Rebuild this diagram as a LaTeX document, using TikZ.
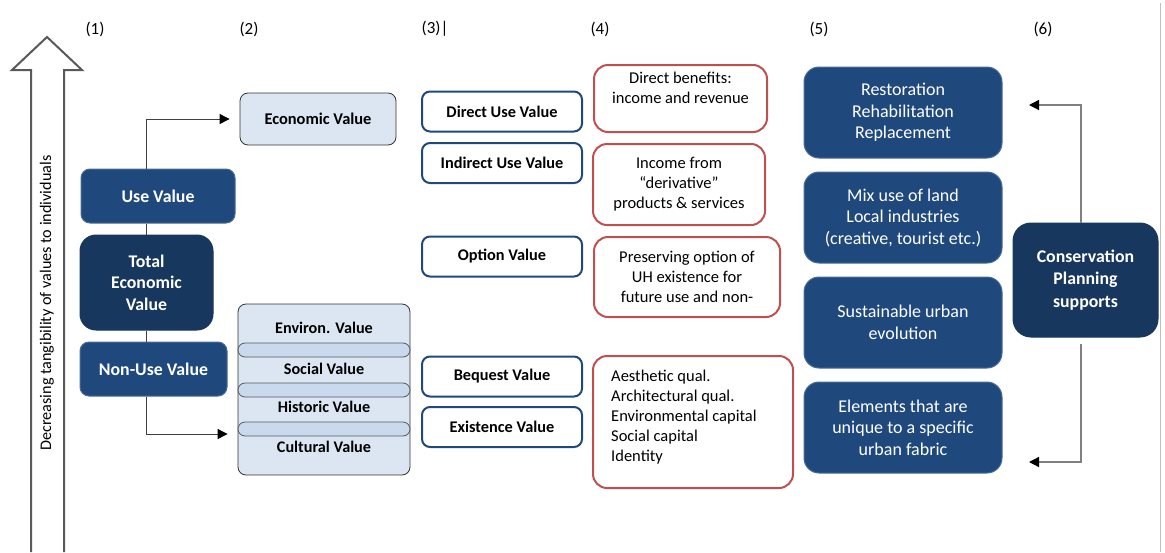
\documentclass[tikz,border=0pt]{standalone}
\usepackage{fontspec}
\setmainfont{Carlito}
\usetikzlibrary{arrows.meta}

\definecolor{navy}{HTML}{1F497D}
\definecolor{navyedge}{HTML}{4A6D98}
\definecolor{deepnavy}{HTML}{17375E}
\definecolor{paleblue}{HTML}{DCE6F2}
\definecolor{bandblue}{HTML}{C9DAEF}
\definecolor{redline}{HTML}{C0504D}
\definecolor{blueline}{HTML}{1F497D}
\definecolor{shaft}{HTML}{595959}

\begin{document}
\begin{tikzpicture}[x=1pt, y=-1pt,
	every node/.style={inner sep=0pt, align=center, font=\fontsize{16.5}{20}\selectfont},
	valbox/.style={rounded corners=9pt, fill=navy, draw=navyedge, line width=1pt, text=white, font=\bfseries\fontsize{17.8}{21.5}\selectfont},
	totalbox/.style={valbox, fill=deepnavy, draw=deepnavy, rounded corners=16pt},
	econbox/.style={rounded corners=8pt, fill=paleblue, draw=black!80, line width=0.8pt, font=\bfseries\fontsize{16.4}{20}\selectfont},
	bandbox/.style={rounded corners=7pt, fill=bandblue, draw=black!65, line width=0.8pt},
	stacklabel/.style={font=\bfseries\fontsize{16.2}{20}\selectfont},
	kindbox/.style={rounded corners=8pt, draw=blueline, line width=2pt, fill=white, font=\bfseries\fontsize{16.3}{20}\selectfont, minimum width=160pt, minimum height=40pt},
	notebox/.style={rounded corners=14pt, draw=redline, line width=2pt, fill=white},
	planbox/.style={rounded corners=15pt, fill=navy, draw=navyedge, line width=1pt, text=white, font=\fontsize{18}{21.5}\selectfont, minimum width=198pt, minimum height=91pt},
	colnum/.style={font=\fontsize{17}{20}\selectfont},
	flow/.style={draw=black!75, line width=0.9pt, -{Triangle[length=10pt,width=10pt,color=black]}},
	backflow/.style={flow, draw=black!50, line width=1.3pt},
	]
	\useasboundingbox (0,0) rectangle (1165,552);

	% column numbers
	\node[colnum] (n1) at (95,29) {(1)};
	\node[colnum] (n2) at (249,29) {(2)};
	\node[colnum] (n3) at (435,29) {(3)|};
	\node[colnum] (n4) at (600,29) {(4)};
	\node[colnum] (n5) at (819,29) {(5)};
	\node[colnum] (n6) at (1043,29) {(6)};
	\draw[black!25, line width=0.8pt] (1160,3) -- (1160,552);

	% hollow arrow
	\draw[shaft, line width=2pt, fill=white, line join=miter]
		(31,552) -- (31,70) -- (12,70) -- (47,37) -- (82,70) -- (64,70) -- (64,552);
	\node[rotate=90, font=\fontsize{16.2}{20}\selectfont] (axis) at (47,303) {Decreasing tangibility of values to individuals};

	% (1)
	\node[valbox, minimum width=154pt, minimum height=54pt] (use) at (158,196) {Use Value};
	\node[totalbox, minimum width=133pt, minimum height=95pt] (tev) at (146.5,282.5) {Total\\Economic\\Value};
	\node[valbox, minimum width=147pt, minimum height=54pt] (nonuse) at (153.5,369) {Non-Use Value};

	% (2)
	\node[econbox, minimum width=156pt, minimum height=52pt] (econ) at (318,119) {Economic Value};
	\node[econbox, minimum width=172pt, minimum height=171pt] (stack) at (324,389.5) {};
	\draw[bandbox] (238,343) rectangle (410,357);
	\draw[bandbox] (238,383) rectangle (410,397);
	\draw[bandbox] (238,422) rectangle (410,436);
	\node[stacklabel] (environ) at (324,328) {Environ. Value};
	\node[stacklabel] (social) at (324,369) {Social Value};
	\node[stacklabel] (historic) at (324,407) {Historic Value};
	\node[stacklabel] (cultural) at (324,447) {Cultural Value};

	\draw[black!75, line width=0.9pt] (tev.north) -- (tev.north |- use.south);
	\draw[black!75, line width=0.9pt] (tev.south) -- (tev.south |- nonuse.north);
	\draw[flow, shorten >=10pt] (use.north -| tev.north) |- (econ.west);
	\draw[flow, shorten >=10pt] (nonuse.south -| tev.south) |- ([yshift=-44.5pt]stack.west);

	% (3)
	\node[kindbox] (direct) at (502,111.5) {Direct Use Value};
	\node[kindbox] (indirect) at (502,163) {Indirect Use Value};
	\node[kindbox] (option) at (502,256.5) {Option Value};
	\node[kindbox] (bequest) at (502,376.5) {Bequest Value};
	\node[kindbox] (exist) at (502,427) {Existence Value};

	% (4)
	\node[notebox, minimum width=173pt, minimum height=67pt] (income) at (680.5,98.5) {Direct benefits:\\income and revenue\\[2pt]};
	\node[notebox, minimum width=172pt, minimum height=81pt] (deriv) at (679,184.5) {Income from\\“derivative”\\products \& services};
	\node[notebox, minimum width=186pt, minimum height=80pt] (preserve) at (687,277) {Preserving option of\\UH existence for\\future use and non-};
	\node[notebox, minimum width=200pt, minimum height=132pt] (quality) at (693,422) {};
	\node[anchor=west, align=left] (qualtext) at (611,417) {Aesthetic qual.\\Architectural qual.\\Environmental capital\\Social capital\\Identity};

	% (5)
	\node[planbox] (restore) at (903,112.5) {Restoration\\Rehabilitation\\Replacement};
	\node[planbox] (mixuse) at (903,217.5) {Mix use of land\\Local industries\\(creative, tourist etc.)};
	\node[planbox] (evolve) at (903,322.5) {Sustainable urban\\evolution};
	\node[planbox] (unique) at (903,427.5) {Elements that are\\unique to a specific\\urban fabric};

	% (6)
	\node[totalbox, minimum width=145pt, minimum height=114pt, rounded corners=18pt, font=\bfseries\fontsize{17.8}{22.5}\selectfont] (cps) at (1085.5,280) {Conservation\\Planning\\supports};
	\coordinate (tipup) at (1029,105);
	\coordinate (tipdown) at (1029,462);
	\draw[backflow] ([xshift=-4.5pt]cps.north) |- (tipup);
	\draw[backflow] ([xshift=-4.5pt,yshift=-6pt]cps.south) |- (tipdown);
\end{tikzpicture}
\end{document}
